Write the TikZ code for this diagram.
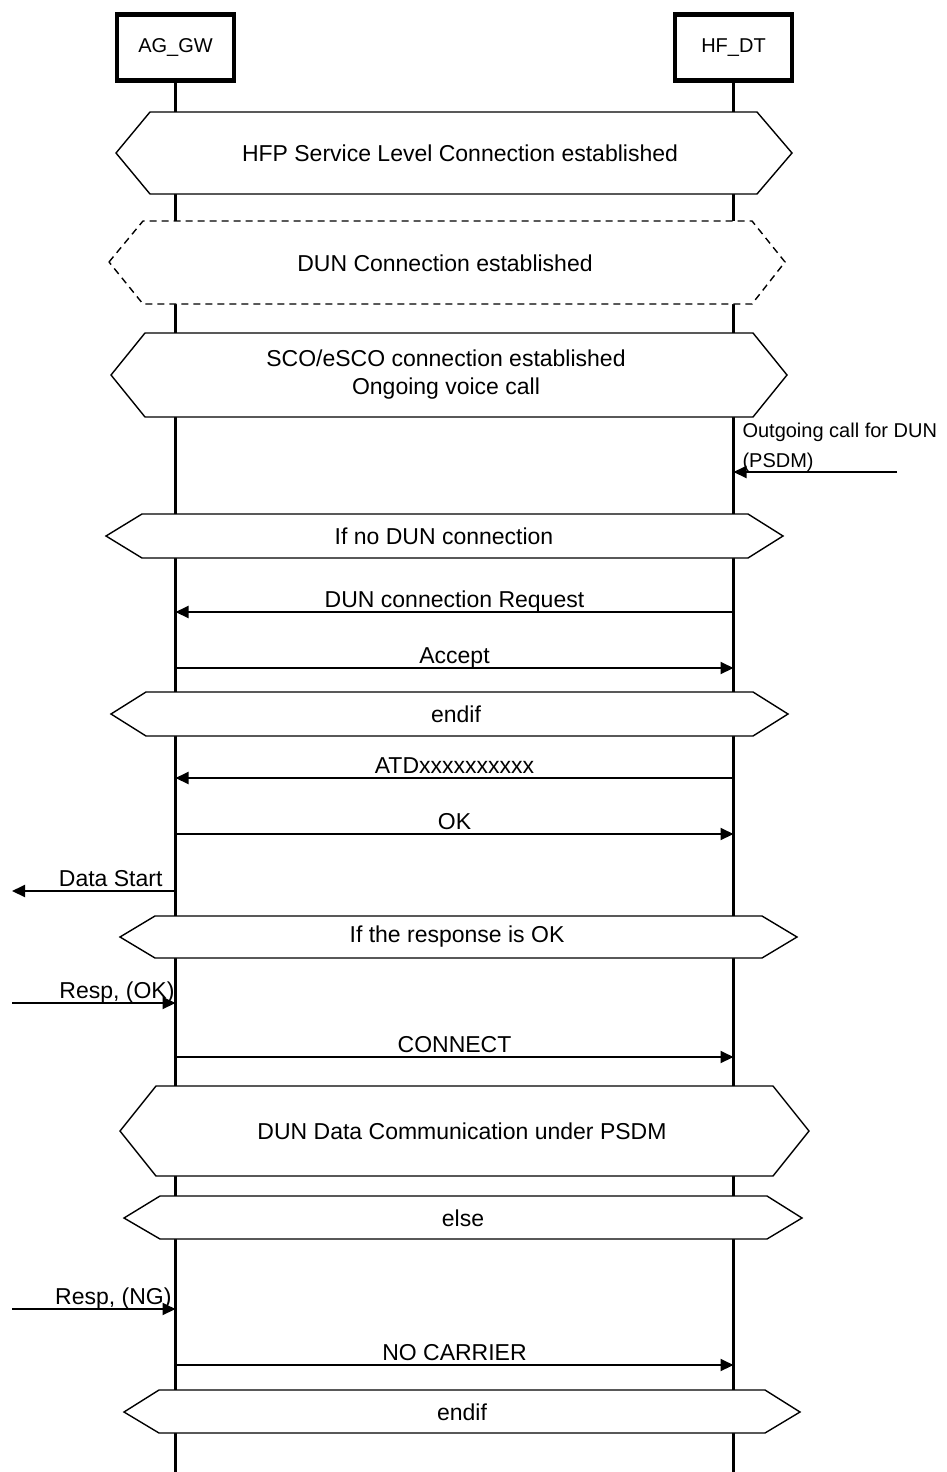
\documentclass[tikz,border=0pt]{standalone}
\usepackage{fontspec}
\setmainfont{Liberation Sans}
\usetikzlibrary{arrows.meta,positioning}

\begin{document}
\begin{tikzpicture}[x=1pt,y=-1pt,
        every node/.style={font=\fontsize{23}{28}\selectfont},
        actor/.style={draw,line width=4.5pt,minimum width=117pt,minimum height=66pt,inner sep=0pt,
            font=\fontsize{20}{24}\selectfont},
        life/.style={line width=3pt},
        cond/.style={draw,fill=white,line width=1.4pt},
        lbl/.style={inner sep=0pt,text depth=0pt,yshift=4pt},
        msg/.style={line width=2pt,-{Triangle[length=13pt,width=12pt]}}]
    \path[use as bounding box] (0,0) rectangle (946,1472);

    % entities and lifelines
    \node[actor] (gw) at (175.5,47.5) {AG\_GW};
    \node[actor] (dt) at (733.5,47.5) {HF\_DT};
    \coordinate (gwend) at (175.5,1472);
    \coordinate (dtend) at (733.5,1472);
    \draw[life] (gw) -- (gwend);
    \draw[life] (dt) -- (dtend);

    % state boxes
    \draw[cond] (116,153) -- (150,112) -- (757,112) -- (792,153) -- (757,194) -- (150,194) -- cycle;
    \node (slc) at (460,153) {HFP Service Level Connection established};
    \draw[cond, dash pattern=on 7pt off 5pt] (109,262) -- (143,221) -- (752,221) -- (785,262) -- (752,304) -- (143,304) -- cycle;
    \node (dun) at (445,263) {DUN Connection established};
    \draw[cond] (111,375) -- (145,333) -- (753,333) -- (787,375) -- (753,417) -- (145,417) -- cycle;
    \node[align=center] (sco) at (446,375) {SCO/eSCO connection established\\Ongoing voice call};

    \coordinate (out) at (897,472);
    \draw[msg] (out) -- (dt |- out) node[above right, align=left, inner sep=4pt, xshift=4pt, yshift=-5pt,
        font=\fontsize{20}{30}\selectfont] (outlbl) {Outgoing call for DUN\\(PSDM)};

    \draw[cond] (106,536) -- (142,514) -- (748,514) -- (783,536) -- (748,558) -- (142,558) -- cycle;
    \node (ifno) at (444,536) {If no DUN connection};

    \draw[msg] (dt |- 0,612) -- node[lbl, anchor=south] (req) {DUN connection Request} (gw |- 0,612);
    \draw[msg] (gw |- 0,668) -- node[lbl, anchor=south] (acc) {Accept} (dt |- 0,668);

    \draw[cond] (111,714) -- (146,692) -- (753,692) -- (788,714) -- (753,736) -- (146,736) -- cycle;
    \node (endif1) at (456,714) {endif};

    \draw[msg] (dt |- 0,778) -- node[lbl, anchor=south] (atd) {ATDxxxxxxxxxx} (gw |- 0,778);
    \draw[msg] (gw |- 0,834) -- node[lbl, anchor=south] (ok) {OK} (dt |- 0,834);

    \coordinate (dstart) at (12,891);
    \draw[msg] (gw |- dstart) node[lbl, anchor=south east, xshift=-12pt] (dslbl) {Data Start} -- (dstart);

    \draw[cond] (120,937) -- (155,916) -- (762,916) -- (797,937) -- (762,958) -- (155,958) -- cycle;
    \node (ifok) at (457,937) {If the response is OK};

    \coordinate (respok) at (12,1003);
    \draw[msg] (respok) -- (gw |- respok) node[lbl, anchor=south east] (oklbl) {Resp, (OK)};

    \draw[msg] (gw |- 0,1057) -- node[lbl, anchor=south] (conn) {CONNECT} (dt |- 0,1057);

    \draw[cond] (120,1131) -- (156,1086) -- (773,1086) -- (809,1131) -- (773,1176) -- (156,1176) -- cycle;
    \node (data) at (462,1131) {DUN Data Communication under PSDM};
    \draw[cond] (124,1218) -- (160,1196) -- (767,1196) -- (802,1218) -- (767,1239) -- (160,1239) -- cycle;
    \node (else) at (463,1218) {else};

    \coordinate (respng) at (12,1309);
    \draw[msg] (respng) -- (gw |- respng) node[lbl, anchor=south east, xshift=-3pt] (nglbl) {Resp, (NG)};

    \draw[msg] (gw |- 0,1365) -- node[lbl, anchor=south] (nocar) {NO CARRIER} (dt |- 0,1365);

    \draw[cond] (124,1412) -- (159,1390) -- (765,1390) -- (800,1412) -- (765,1433) -- (159,1433) -- cycle;
    \node (endif2) at (462,1412) {endif};
\end{tikzpicture}
\end{document}
